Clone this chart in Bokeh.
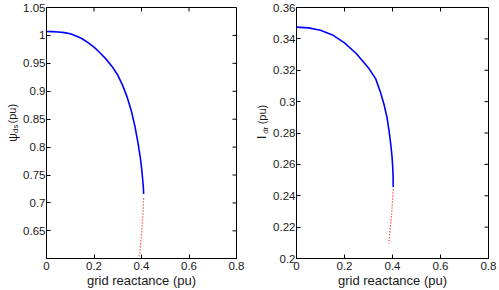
import math
from bokeh.plotting import figure
from bokeh.layouts import row
from bokeh.models import FixedTicker, CustomJSTickFormatter, Label, Range1d
from bokeh.embed import file_html
from bokeh.resources import INLINE

# ---- data ----
x_ticks = [0, 0.2, 0.4, 0.6, 0.8]

psi_ticks = [0.65, 0.7, 0.75, 0.8, 0.85, 0.9, 0.95, 1.0, 1.05]
psi_stable_x = [0.0, 0.025, 0.05, 0.075, 0.1, 0.125, 0.15, 0.175, 0.2, 0.225, 0.25, 0.275,
                0.3, 0.32, 0.34, 0.357, 0.372, 0.385, 0.395, 0.401, 0.405, 0.408, 0.409]
psi_stable_y = [1.007, 1.0068, 1.0062, 1.005, 1.003, 0.999, 0.994, 0.987, 0.979, 0.969, 0.958, 0.945,
                0.929, 0.911, 0.889, 0.865, 0.838, 0.808, 0.781, 0.760, 0.742, 0.727, 0.716]
psi_unstable_x = [0.409, 0.406, 0.402, 0.398, 0.394, 0.389]
psi_unstable_y = [0.708, 0.68, 0.655, 0.635, 0.615, 0.600]

idr_ticks = [0.2, 0.22, 0.24, 0.26, 0.28, 0.3, 0.32, 0.34, 0.36]
idr_stable_x = [0.0, 0.05, 0.1, 0.15, 0.2, 0.25, 0.3, 0.33, 0.35, 0.365, 0.377, 0.386,
                0.393, 0.398, 0.401, 0.4025, 0.403]
idr_stable_y = [0.3475, 0.347, 0.3455, 0.3425, 0.3375, 0.3305, 0.3215, 0.3145, 0.306, 0.298, 0.290, 0.281,
                0.2725, 0.265, 0.258, 0.252, 0.2455]
idr_unstable_x = [0.403, 0.400, 0.396, 0.392, 0.388, 0.385]
idr_unstable_y = [0.244, 0.236, 0.228, 0.221, 0.215, 0.2094]

FONT = "Liberation Sans"
TXT = "#1a1a1a"
fmt = CustomJSTickFormatter(code="return String(parseFloat(tick.toFixed(3)));")


def make_fig(width, left, right, y_lo, y_hi, y_ticks, sx, sy, ux, uy):
    p = figure(width=width, height=290, output_backend="svg", toolbar_location=None,
               x_range=Range1d(0, 0.8), y_range=Range1d(y_lo, y_hi),
               min_border_left=left, min_border_right=right,
               min_border_top=7, min_border_bottom=28)
    p.grid.visible = False
    p.outline_line_color = "black"
    p.outline_line_width = 1
    p.background_fill_color = "white"
    p.border_fill_color = "white"
    for ax, ticks in ((p.xaxis[0], x_ticks), (p.yaxis[0], y_ticks)):
        ax.ticker = FixedTicker(ticks=ticks)
        ax.formatter = fmt
        ax.major_tick_in = 4
        ax.major_tick_out = 0
        ax.minor_tick_line_color = None
        ax.major_label_text_font = FONT
        ax.major_label_text_font_size = "11.5px"
        ax.major_label_text_color = TXT
        ax.axis_line_color = "black"
    p.xaxis.major_label_standoff = 3
    p.yaxis.major_label_standoff = 1
    p.xaxis.axis_label = "grid reactance (pu)"
    p.xaxis.axis_label_text_font = FONT
    p.xaxis.axis_label_text_font_size = "13px"
    p.xaxis.axis_label_text_font_style = "normal"
    p.xaxis.axis_label_text_color = TXT
    p.xaxis.axis_label_standoff = 0
    # mirrored tick marks on the top and right edges of the box
    p.ray(x=x_ticks, y=[y_hi] * len(x_ticks), length=4, length_units="screen",
          angle=-math.pi / 2, line_color="black", line_width=1)
    p.ray(x=[0.8] * len(y_ticks), y=y_ticks, length=4, length_units="screen",
          angle=math.pi, line_color="black", line_width=1)
    p.line(sx, sy, line_color="#0000ff", line_width=1.6)
    p.line(ux, uy, line_color="red", line_width=1.2, line_dash="1 2")
    return p


def make_label(width, main, sub, main_pos, sub_pos, unit_pos, main_size):
    # narrow strip carrying the rotated y-axis title (with subscript); y measured from bottom
    q = figure(width=width, height=290, output_backend="svg", toolbar_location=None,
               title=None, x_range=Range1d(0, width), y_range=Range1d(0, 290),
               x_axis_location=None, y_axis_location=None,
               min_border_left=0, min_border_right=0, min_border_top=0, min_border_bottom=0)
    q.grid.visible = False
    q.outline_line_color = None
    q.background_fill_color = "white"
    q.border_fill_color = "white"
    q.add_layout(Label(x=main_pos[0], y=main_pos[1], text=main, angle=math.pi / 2,
                       text_font=FONT, text_font_size=main_size, text_color=TXT,
                       text_baseline="alphabetic", text_align="left"))
    q.add_layout(Label(x=sub_pos[0], y=sub_pos[1], text=sub, angle=math.pi / 2,
                       text_font=FONT, text_font_size="8px", text_color=TXT,
                       text_baseline="alphabetic", text_align="left"))
    q.add_layout(Label(x=unit_pos[0], y=unit_pos[1], text="(pu)", angle=math.pi / 2,
                       text_font=FONT, text_font_size="11px", text_color=TXT,
                       text_baseline="alphabetic", text_align="left"))
    return q


lab1 = make_label(20, "ψ", "ds", (12, 135), (15, 145), (11.2, 156), "12px")
p1 = make_fig(230, 23, 14, 0.6005, 1.05, psi_ticks,
              psi_stable_x, psi_stable_y, psi_unstable_x, psi_unstable_y)
lab2 = make_label(20, "I", "dr", (11.5, 138), (14.5, 144), (11.2, 155), "12px")
p2 = make_fig(229, 26, 11, 0.2, 0.36, idr_ticks,
              idr_stable_x, idr_stable_y, idr_unstable_x, idr_unstable_y)

layout = row(lab1, p1, lab2, p2, spacing=0)
open("out.html", "w").write(file_html(layout, INLINE))
